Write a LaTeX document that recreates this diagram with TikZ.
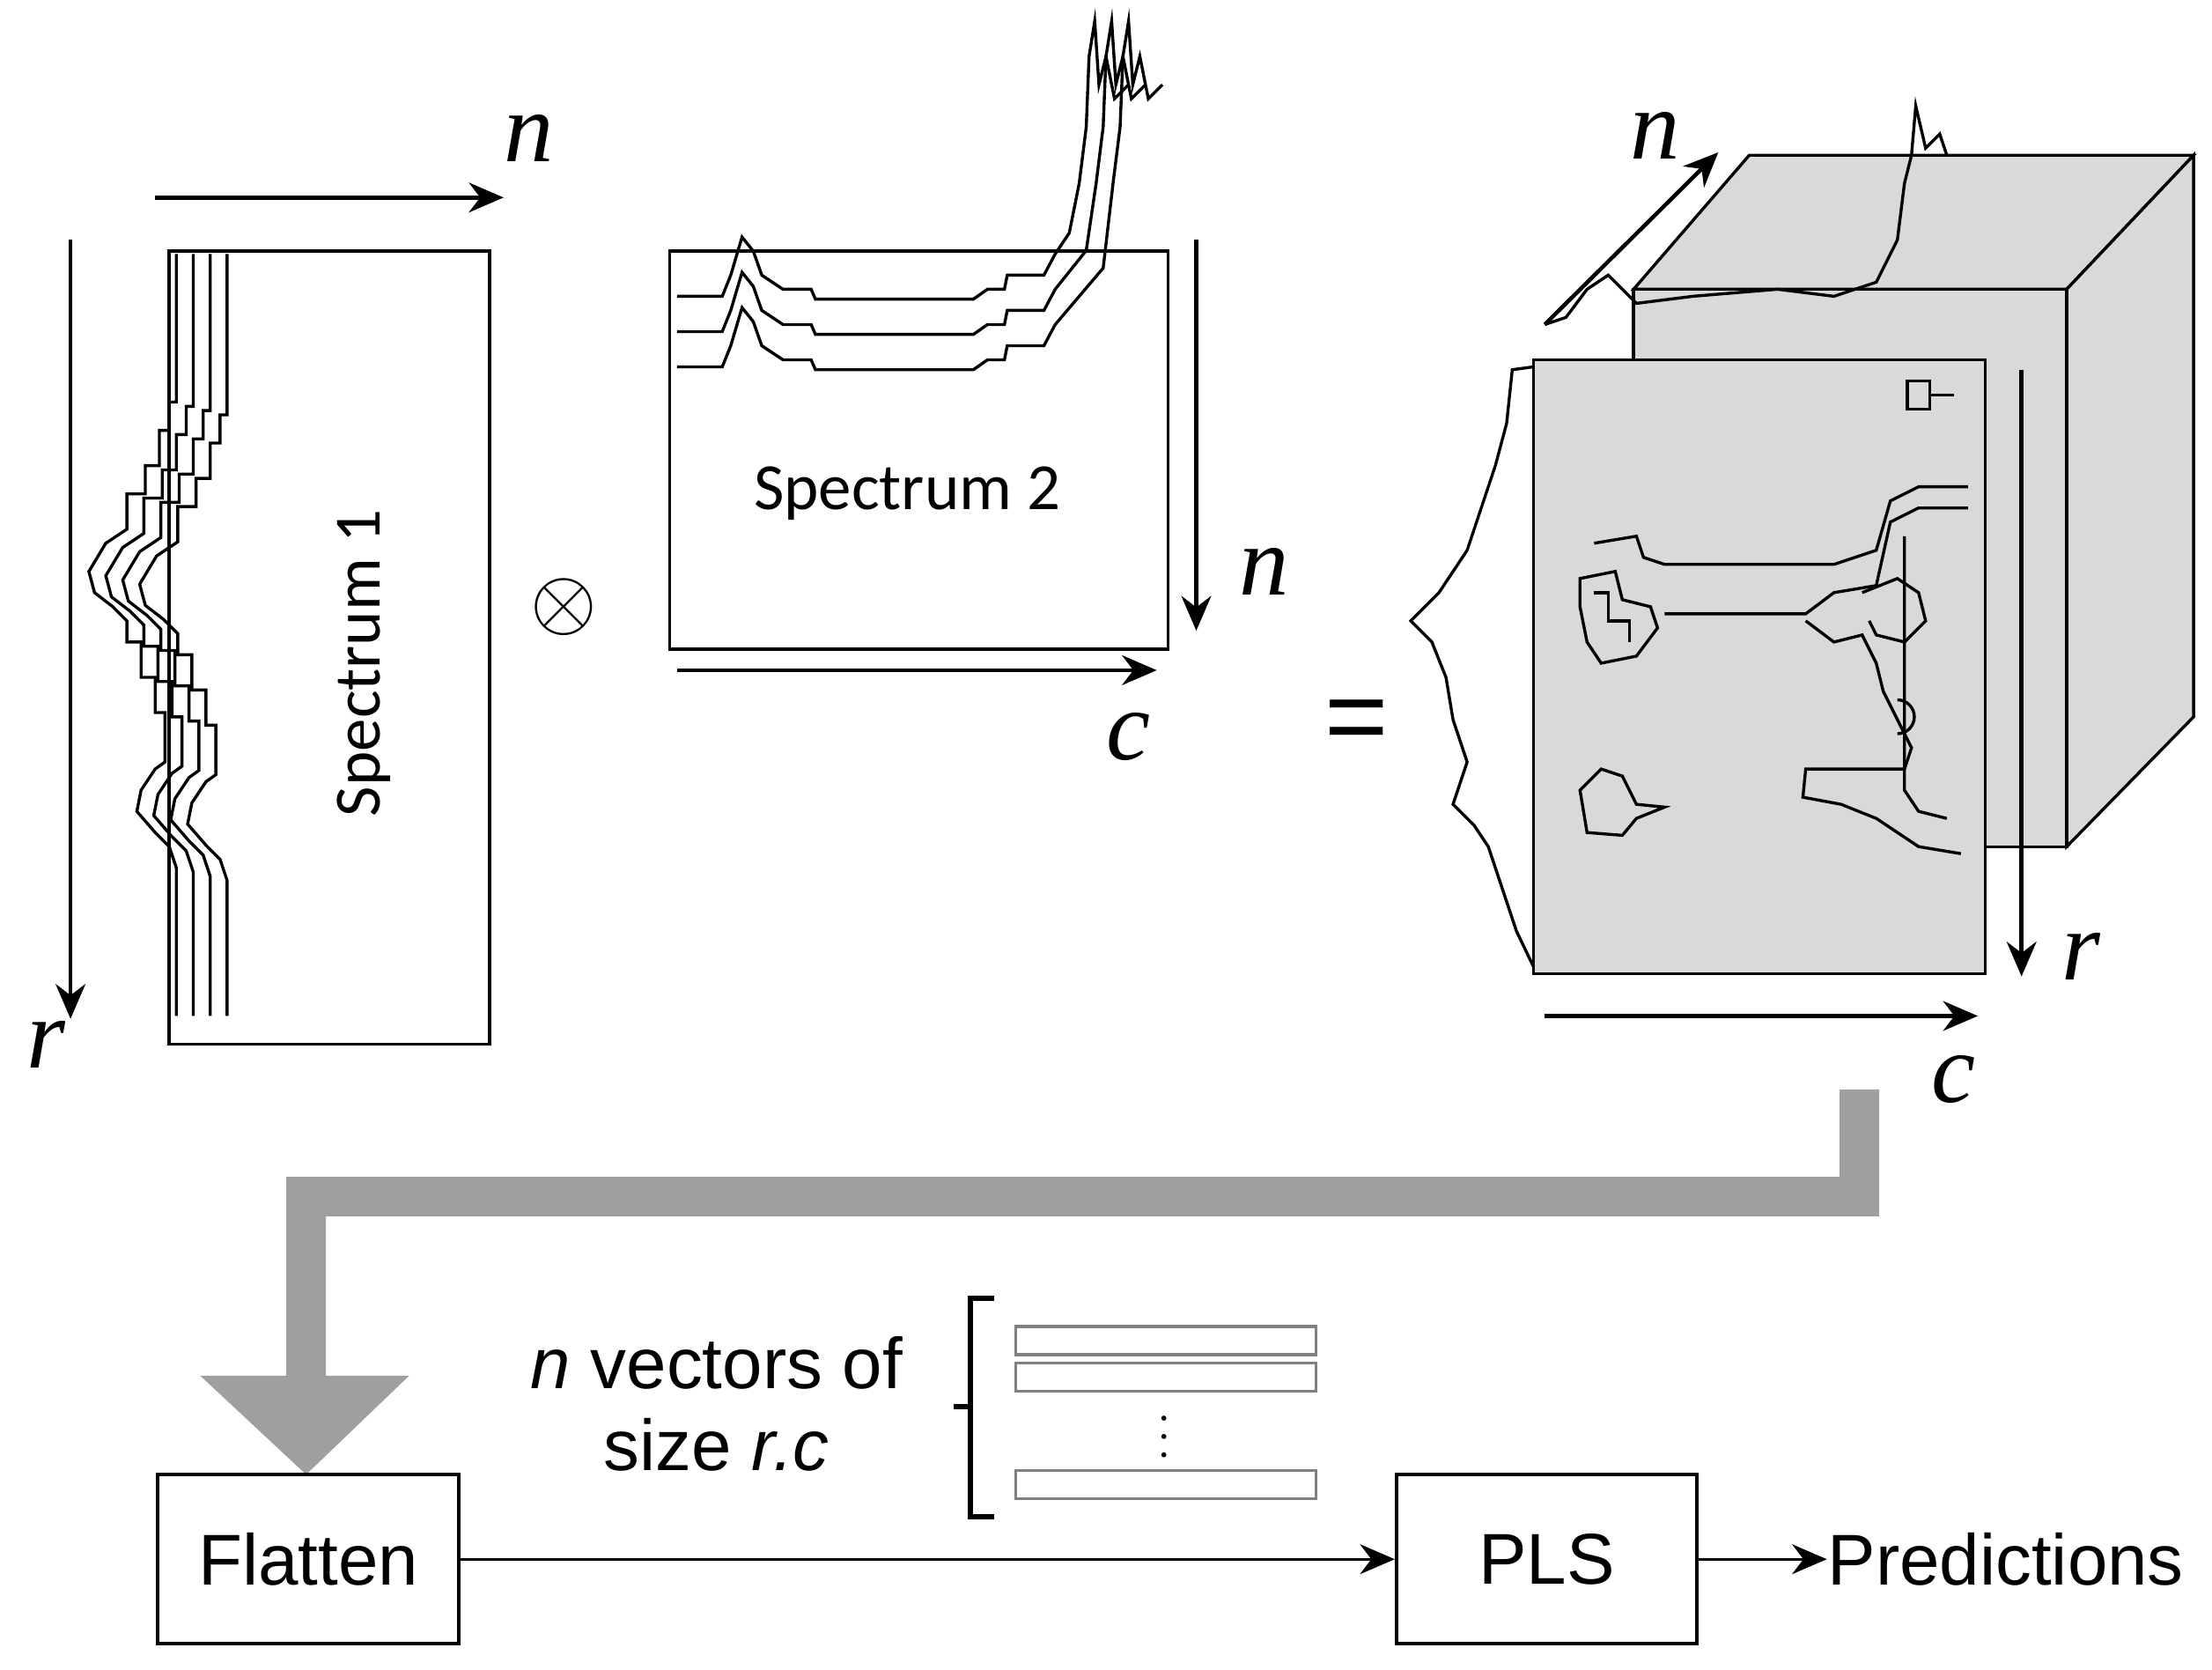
\documentclass[tikz,border=0pt]{standalone}
\usepackage{fontspec}
\setmainfont{Liberation Sans}
\newfontfamily\ser{Liberation Serif}
\newfontfamily\carl{Carlito}
\usetikzlibrary{arrows.meta}
\begin{document}
\begin{tikzpicture}[x=0.01cm,y=-0.01cm,
  ln/.style={line width=0.6pt},
  ax/.style={line width=0.8pt,-{Stealth[length=7pt,width=6pt]}},
  lab/.style={font=\ser\itshape\fontsize{20}{20}\selectfont},
  box/.style={draw,line width=0.7pt,minimum width=2.13cm,minimum height=1.2cm,font=\fontsize{14.5}{14.5}\selectfont},
  sp/.style={ln}]
\useasboundingbox (0,0) rectangle (1568,1183);
% --- Spectrum 1
\node[draw,ln,minimum width=2.27cm,minimum height=5.62cm,inner sep=0] (s1) at (233.5,459) {};
\node[rotate=90,font=\carl\fontsize{13.3}{13.3}\selectfont] (s1t) at (258,470) {Spectrum 1};
\foreach \k in {0,1,2,3}{
 \pgfmathsetmacro\x{125+12*\k}\pgfmathsetmacro\d{3*\k}
 \draw[sp] (\x,180) -- (\x,285+\d) -- (\x-5,285+\d) -- (\x-5,305+\d) -- (\x-12,305+\d) -- (\x-12,330+\d) -- (\x-22,330+\d) -- (\x-22,350+\d) -- (\x-35,350+\d) -- (\x-35,375+\d) -- (\x-50,385+\d) -- (\x-62,405+\d) -- (\x-58,420+\d) -- (\x-45,430+\d) -- (\x-35,440+\d) -- (\x-35,455+\d) -- (\x-25,455+\d) -- (\x-25,480+\d) -- (\x-15,480+\d) -- (\x-15,505+\d) -- (\x-8,505+\d) -- (\x-8,540+\d) -- (\x-15,545+\d) -- (\x-25,560+\d) -- (\x-28,575+\d) -- (\x-15,590+\d) -- (\x-5,600+\d) -- (\x,615+\d) -- (\x,720);}
\coordinate (n1a) at (110,140); \coordinate (n1b) at (357,140);
\draw[ax] (n1a) -- (n1b);
\node[lab] (n1) at (375,98) {n};
\coordinate (r1a) at (50,170); \coordinate (r1b) at (50,722);
\draw[ax] (r1a) -- (r1b);
\node[lab] (r1) at (33,740) {r};
\node[font=\fontsize{18}{18}\selectfont] (ot) at (400,430) {$\otimes$};
% --- Spectrum 2
\node[draw,ln,minimum width=3.53cm,minimum height=2.82cm,inner sep=0] (s2) at (651.5,319) {};
\node[font=\carl\fontsize{13.3}{13.3}\selectfont] (s2t) at (643,350) {Spectrum 2};
\foreach \k in {0,1,2}{
 \pgfmathsetmacro\dx{12*\k}\pgfmathsetmacro\dy{25*\k}
 \draw[sp] (480,210+\dy) -- (512,210+\dy) -- (518,195+\dy) -- (526,168+\dy) -- (534,178+\dy) -- (540,195+\dy) -- (555,205+\dy) -- (575,205+\dy) -- (578,212+\dy) -- (690,212+\dy) -- (700,205+\dy) -- (712,205+\dy) -- (714,195+\dy) -- (740,195+\dy) -- (748,180+\dy) -- (758+\dx,165+0.5*\dy) -- (765+\dx,130) -- (770+\dx,90) -- (772+\dx,40) -- (776+\dx,15) -- (779+\dx,60) -- (784+\dx,40) -- (790+\dx,70) -- (800+\dx,60);}
\coordinate (n2a) at (848,170); \coordinate (n2b) at (848,447);
\draw[ax] (n2a) -- (n2b);
\node[lab] (n2) at (896,405) {n};
\coordinate (c2a) at (480,475); \coordinate (c2b) at (820,475);
\draw[ax] (c2a) -- (c2b);
\node[lab] (c2) at (800,522) {c};
\node[font=\fontsize{22}{22}\selectfont] (eq) at (962,515) {=};
% --- cube
\draw[ln,fill=gray!30] (1158,205) -- (1240,110) -- (1555,110) -- (1465,205) -- cycle;
\draw[ln,fill=gray!30] (1465,205) -- (1555,110) -- (1555,508) -- (1465,600) -- cycle;
\draw[ln,fill=gray!30] (1158,205) rectangle (1465,600);
\draw[sp] (1095,230) -- (1110,225) -- (1125,205) -- (1140,195) -- (1160,215) -- (1200,210) -- (1260,205) -- (1300,210) -- (1330,200) -- (1345,170) -- (1350,130) -- (1355,110) -- (1358,75) -- (1365,105) -- (1375,95) -- (1380,110);
\node[draw,ln,fill=gray!30,minimum width=3.2cm,minimum height=4.35cm,inner sep=0] (fp) at (1247,472.5) {};
\draw[sp] (1087,260) -- (1072,262) -- (1068,300) -- (1060,330) -- (1050,360) -- (1040,390) -- (1020,420) -- (1000,440) -- (1015,455) -- (1025,480) -- (1030,510) -- (1040,540) -- (1030,570) -- (1045,585) -- (1055,600) -- (1065,630) -- (1075,660) -- (1087,685);
% panel scribbles
\draw[sp] (1130,385) -- (1160,380) -- (1165,395) -- (1180,400) -- (1300,400) -- (1330,390) -- (1340,355) -- (1360,345) -- (1395,345);
\draw[sp] (1120,410) -- (1145,405) -- (1150,425) -- (1170,430) -- (1175,445) -- (1160,465) -- (1135,470) -- (1125,455) -- (1120,430) -- cycle;
\draw[sp] (1180,435) -- (1280,435) -- (1300,420) -- (1330,415) -- (1340,370) -- (1360,360) -- (1395,360);
\draw[sp] (1130,420) -- (1140,420) -- (1140,440) -- (1155,440) -- (1155,455);
\draw[sp] (1120,560) -- (1135,545) -- (1150,550) -- (1160,570) -- (1180,572) -- (1160,580) -- (1150,592) -- (1125,590) -- cycle;
\draw[sp] (1280,440) -- (1300,455) -- (1320,450) -- (1330,470) -- (1335,490) -- (1345,510) -- (1355,530) -- (1350,545) -- (1280,545) -- (1278,565) -- (1305,570) -- (1330,580) -- (1360,600) -- (1390,605);
\draw[sp] (1320,420) -- (1345,410) -- (1360,420) -- (1365,440) -- (1350,455) -- (1330,450) -- (1325,440);
\draw[sp] (1350,380) -- (1350,560) -- (1360,575) -- (1380,580);
\draw[sp] (1345,520) arc (90:-90:12);
\draw[sp] (1352,270) rectangle (1368,290); \draw[sp] (1368,280) -- (1385,280);
\coordinate (n3a) at (1095,230); \coordinate (n3b) at (1218,108);
\draw[ax] (n3a) -- (n3b);
\node[lab] (n3) at (1173,96) {n};
\coordinate (r3a) at (1433,262); \coordinate (r3b) at (1433,692);
\draw[ax] (r3a) -- (r3b);
\node[lab] (r3) at (1475,678) {r};
\coordinate (c3a) at (1095,720); \coordinate (c3b) at (1402,720);
\draw[ax] (c3a) -- (c3b);
\node[lab] (c3) at (1385,765) {c};
% --- thick arrow
\fill[gray!75] (1304,772) -- (1332,772) -- (1332,862) -- (231,862) -- (231,975) -- (290,975) -- (217,1045) -- (142,975) -- (203,975) -- (203,834) -- (1304,834) -- cycle;
% --- bottom
\node[box] (fl) at (218.5,1105) {Flatten};
\node[box] (pls) at (1096.5,1105) {PLS};
\node[anchor=west,inner sep=0,font=\fontsize{14.5}{14.5}\selectfont] (pr) at (1295,1105) {Predictions};
\draw[ax,line width=0.6pt] (fl) -- (pls);
\draw[ax,line width=0.6pt] (pls) -- (pr);
\node[align=center,font=\fontsize{14.5}{16.5}\selectfont] (txt) at (508,995) {\textit{n} vectors of\\size \textit{r.c}};
\draw[line width=1pt] (705,920) -- (688,920) -- (688,1075) -- (705,1075);
\draw[line width=1pt] (688,997) -- (676,997);
\node[draw,gray,ln,minimum width=2.13cm,minimum height=0.2cm,inner sep=0] (v1) at (826.5,950) {};
\node[draw,gray,ln,minimum width=2.13cm,minimum height=0.2cm,inner sep=0] (v2) at (826.5,976) {};
\node[draw,gray,ln,minimum width=2.13cm,minimum height=0.2cm,inner sep=0] (v3) at (826.5,1052) {};
\foreach \yy in {1005,1018,1031} \fill (825,\yy) circle (1.8);
\end{tikzpicture}
\end{document}
